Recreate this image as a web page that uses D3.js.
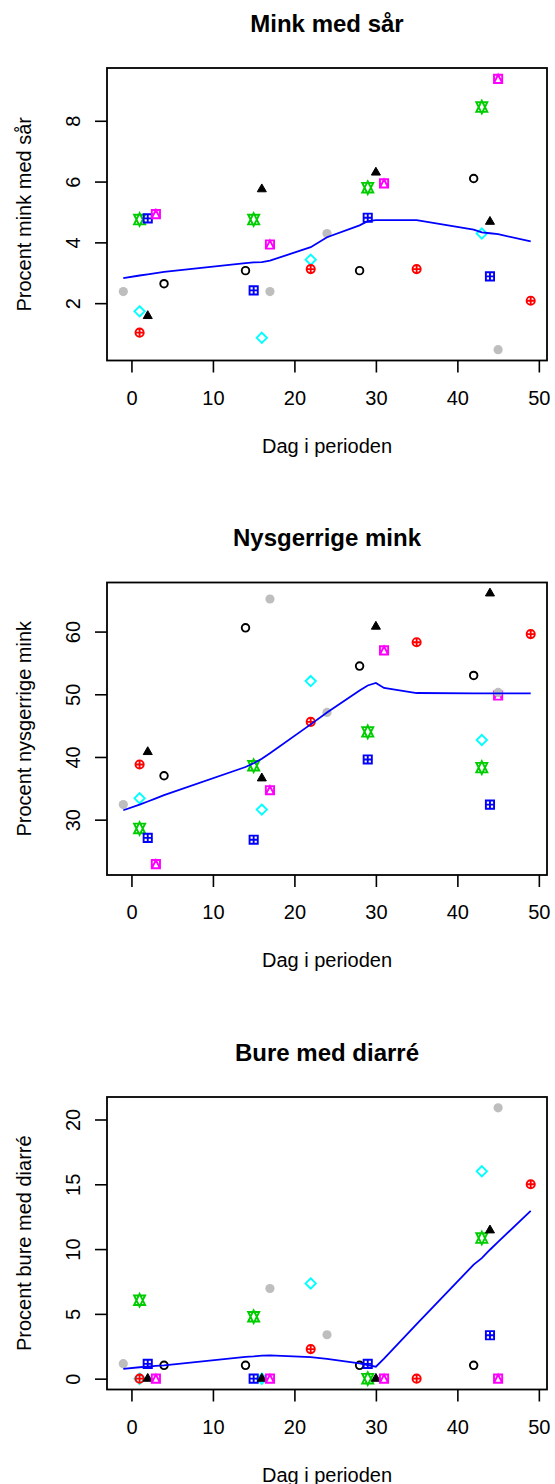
<!DOCTYPE html>
<html>
<head>
<meta charset="utf-8">
<script src="https://cdn.jsdelivr.net/npm/d3@7"></script>
<style>
  html, body { margin: 0; padding: 0; background: #ffffff; }
  svg { display: block; font-family: "Liberation Sans", Arial, sans-serif; }
</style>
</head>
<body>
<svg id="chart" width="555" height="1484"></svg>
<script>
// Visit days for each of the eight herds (identical in all three panels).
// Herd order: open circle, triangle, grey dot, diamond, circle-plus,
// square-plus, double triangle, square-triangle.
const herdDays = [
  [4, 14, 28, 42],
  [2, 16, 30, 44],
  [-1, 17, 24, 45],
  [1, 16, 22, 43],
  [1, 22, 35, 49],
  [2, 15, 29, 44],
  [1, 15, 29, 43],
  [3, 17, 31, 45]
];

// Percent of mink with wounds, one row per herd
const saarValues = [
  [2.64, 3.07, 3.07, 6.10],
  [1.58, 5.75, 6.30, 4.68],
  [2.38, 2.38, 4.29, 0.47],
  [1.73, 0.86, 3.43, 4.29],
  [1.03, 3.12, 3.12, 2.08],
  [4.79, 2.42, 4.81, 2.88],
  [4.75, 4.75, 5.80, 8.45],
  [4.93, 3.93, 5.94, 9.38]
];

// Percent of curious mink
const nysValues = [
  [37.0, 60.6, 54.5, 53.0],
  [40.8, 36.6, 60.8, 66.1],
  [32.4, 65.2, 47.1, 50.3],
  [33.4, 31.6, 52.1, 42.7],
  [38.8, 45.6, 58.3, 59.6],
  [27.1, 26.8, 39.6, 32.4],
  [28.6, 38.6, 44.0, 38.3],
  [22.9, 34.7, 57.0, 49.8]
];

// Percent of cages with diarrhoea
const diarreValues = [
  [1.03, 1.03, 1.03, 1.03],
  [0, 0, 0, 11.45],
  [1.16, 6.96, 3.39, 20.9],
  [0, 0, 7.35, 16.0],
  [0, 2.28, 0, 15.0],
  [1.14, 0, 1.14, 3.35],
  [6.05, 4.78, 0, 10.85],
  [0, 0, 0, 0]
];

// Smoothed trend, evaluated at every distinct visit day
const smoothDays = [-1, 1, 2, 3, 4, 14, 15, 16, 17, 22, 24, 28, 29, 30, 31, 35, 42, 43, 44, 45, 49];
const saarSmooth = [2.82, 2.91, 2.95, 2.99, 3.03, 3.32, 3.34, 3.35, 3.40, 3.84, 4.17, 4.56, 4.70, 4.73, 4.73, 4.73, 4.42, 4.33, 4.30, 4.27, 4.03];
const nysSmooth = [31.5, 32.4, 32.9, 33.4, 33.9, 38.4, 39.0, 39.7, 40.6, 45.2, 47.1, 50.6, 51.4, 51.8, 51.0, 50.2, 50.15, 50.15, 50.15, 50.15, 50.15];
const diarreSmooth = [0.76, 0.88, 0.93, 0.98, 1.03, 1.68, 1.72, 1.78, 1.79, 1.66, 1.52, 1.18, 1.05, 0.92, 1.55, 4.2, 8.8, 9.3, 9.95, 10.55, 12.95];

const panelTitles = ["Mink med sår", "Nysgerrige mink", "Bure med diarré"];
const yTitles = ["Procent mink med sår", "Procent nysgerrige mink", "Procent bure med diarré"];
const xTitle = "Dag i perioden";
const xTicks = [0, 10, 20, 30, 40, 50];
const saarTicks = [2, 4, 6, 8];
const nysTicks = [30, 40, 50, 60];
const diarreTicks = [0, 5, 10, 15, 20];

// ---- styling ----
const herdColors = ["#000000", "#000000", "#BEBEBE", "#00FFFF", "#FF0000", "#0000FF", "#00CD00", "#FF00FF"];
const herdSymbols = ["circle", "triangle", "dot", "diamond", "circlePlus", "squarePlus", "star", "squareTriangle"];
const drawOrder = [3, 4, 6, 0, 5, 1, 7, 2];
const R = 4.1;          // base symbol radius
const symStroke = 1.9;

const boxLeft = 107, boxRight = 547, boxH = 292.5;
const panelTops = [68, 582.5, 1097];

function symbolPath(kind, r) {
  const circ = rr => `M${rr},0A${rr},${rr} 0 1,1 ${-rr},0A${rr},${rr} 0 1,1 ${rr},0Z`;
  switch (kind) {
    case "circle": return circ(r * 0.92);
    case "dot": return circ(r * 1.12);
    case "triangle": {
      const s = r * 0.82;
      const t0 = 1.5551 * s, t1 = 1.3468 * s, t2 = 0.7776 * s;
      return `M0,${-t0}L${t1},${t2}L${-t1},${t2}Z`;
    }
    case "diamond": {
      const d = 1.2533 * r;
      return `M0,${-d}L${d},0L0,${d}L${-d},0Z`;
    }
    case "circlePlus":
      return circ(r) + `M${-r},0H${r}M0,${-r}V${r}`;
    case "squarePlus":
      return `M${-r},${-r}H${r}V${r}H${-r}Z` + `M${-r},0H${r}M0,${-r}V${r}`;
    case "star": {
      const a = 1.5551 * r, b = 0.5 * (0.7776 * r + a), w = 1.3468 * r;
      return `M0,${-a}L${w},${b}L${-w},${b}Z` + `M0,${a}L${w},${-b}L${-w},${-b}Z`;
    }
    case "squareTriangle":
      return `M${-r},${-r}H${r}V${r}H${-r}Z` + `M${-r},${r}L0,${-r}L${r},${r}`;
  }
}

const svg = d3.select("#chart");

const x = d3.scaleLinear()
  .domain((() => {
    const all = herdDays.flat();
    const lo = d3.min(all), hi = d3.max(all), pad = (hi - lo) * 0.04;
    return [lo - pad, hi + pad];
  })())
  .range([boxLeft, boxRight]);

const panels = [
  { values: saarValues, smooth: saarSmooth, ticks: saarTicks },
  { values: nysValues, smooth: nysSmooth, ticks: nysTicks },
  { values: diarreValues, smooth: diarreSmooth, ticks: diarreTicks }
];

panels.forEach((p, i) => {
  const top = panelTops[i], bottom = top + boxH;
  const all = p.values.flat();
  const lo = d3.min(all), hi = d3.max(all), pad = (hi - lo) * 0.04;
  const y = d3.scaleLinear().domain([lo - pad, hi + pad]).range([bottom, top]);

  const g = svg.append("g");

  // title
  g.append("text")
    .attr("x", (boxLeft + boxRight) / 2)
    .attr("y", top - 36.5)
    .attr("text-anchor", "middle")
    .attr("font-size", 24)
    .attr("font-weight", "bold")
    .attr("fill", "#000")
    .text(panelTitles[i]);

  // x axis
  const xa = g.append("g")
    .attr("transform", `translate(0,${bottom})`)
    .call(d3.axisBottom(x).tickValues(xTicks).tickSize(12).tickPadding(18).tickFormat(d3.format("d")));
  xa.select(".domain").remove();
  xa.selectAll(".tick line").attr("stroke", "#000").attr("stroke-width", 1.6);
  xa.selectAll(".tick text").attr("font-size", 20).attr("fill", "#000")
    .attr("font-family", "Liberation Sans, Arial, sans-serif");

  // y axis with labels turned parallel to the axis
  const ya = g.append("g")
    .attr("transform", `translate(${boxLeft},0)`)
    .call(d3.axisLeft(y).tickValues(p.ticks).tickSize(12).tickFormat(d3.format("d")));
  ya.select(".domain").remove();
  ya.selectAll(".tick line").attr("stroke", "#000").attr("stroke-width", 1.6);
  ya.selectAll(".tick text")
    .attr("transform", "rotate(-90)")
    .attr("x", 0).attr("y", -(boxLeft - 80)).attr("dy", 0)
    .attr("text-anchor", "middle")
    .attr("font-size", 20).attr("fill", "#000")
    .attr("font-family", "Liberation Sans, Arial, sans-serif");

  // axis titles
  g.append("text")
    .attr("x", (boxLeft + boxRight) / 2)
    .attr("y", bottom + 92)
    .attr("text-anchor", "middle")
    .attr("font-size", 20)
    .attr("fill", "#000")
    .text(xTitle);
  g.append("text")
    .attr("transform", `translate(31,${(top + bottom) / 2}) rotate(-90)`)
    .attr("text-anchor", "middle")
    .attr("font-size", 20)
    .attr("fill", "#000")
    .text(yTitles[i]);

  // points
  drawOrder.forEach(h => {
    const kind = herdSymbols[h];
    const filled = kind === "triangle" || kind === "dot";
    g.append("g").selectAll("path")
      .data(herdDays[h].map((d, k) => [d, p.values[h][k]]))
      .join("path")
      .attr("transform", d => `translate(${x(d[0])},${y(d[1])})`)
      .attr("d", symbolPath(kind, R))
      .attr("fill", filled ? herdColors[h] : "none")
      .attr("stroke", kind === "dot" ? "none" : herdColors[h])
      .attr("stroke-width", kind === "triangle" ? 1 : symStroke);
  });

  // smoothed trend
  g.append("path")
    .datum(smoothDays.map((d, k) => [d, p.smooth[k]]))
    .attr("fill", "none")
    .attr("stroke", "#0000FF")
    .attr("stroke-width", 1.8)
    .attr("d", d3.line().x(d => x(d[0])).y(d => y(d[1])));

  // plot frame
  g.append("rect")
    .attr("x", boxLeft).attr("y", top)
    .attr("width", boxRight - boxLeft).attr("height", boxH)
    .attr("fill", "none").attr("stroke", "#000").attr("stroke-width", 1.8);
});
</script>
</body>
</html>
